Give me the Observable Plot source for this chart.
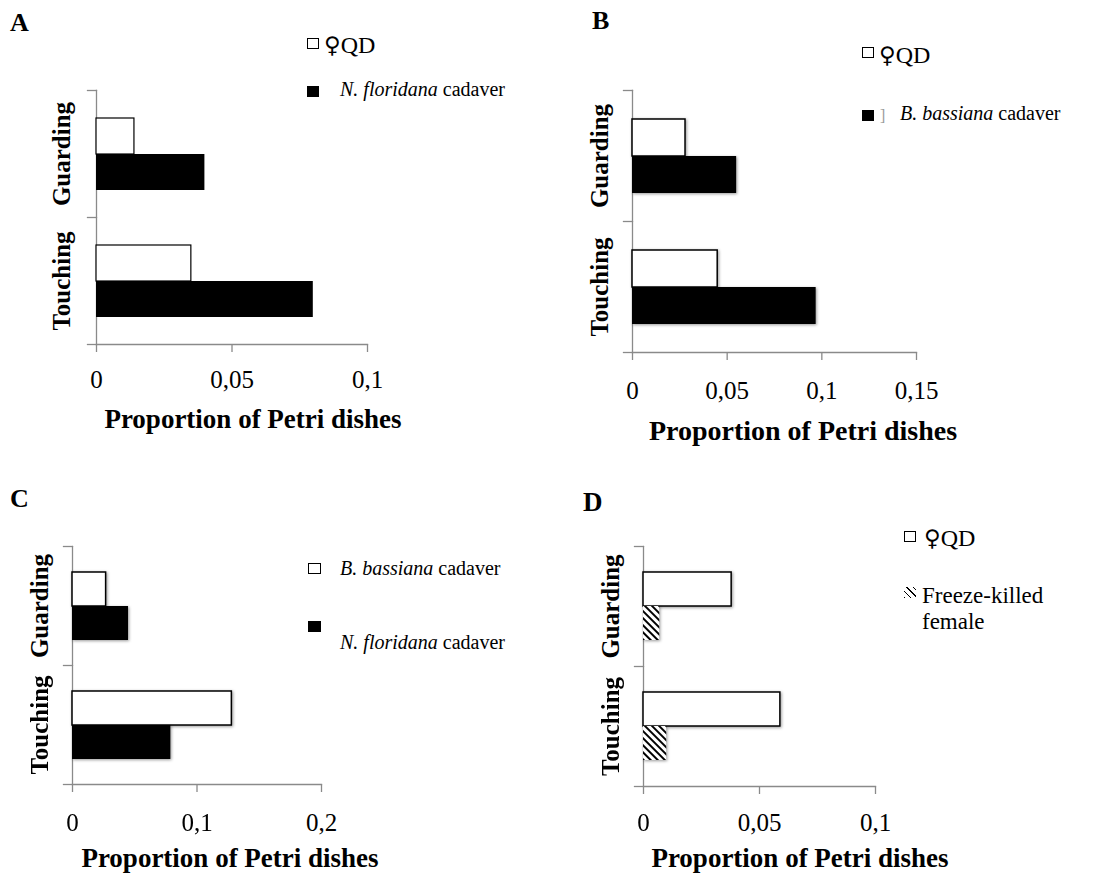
<!DOCTYPE html>
<html><head><meta charset="utf-8">
<script src="https://cdn.jsdelivr.net/npm/d3@7"></script>
<script src="https://cdn.jsdelivr.net/npm/@observablehq/plot@0.6"></script>
<style>
html,body{margin:0;padding:0;background:#fff;}
#root{position:relative;width:1101px;height:877px;overflow:hidden;background:#fff;font-family:"Liberation Serif","Times New Roman",serif;color:#000;}
.abs{position:absolute;line-height:1;white-space:nowrap;}
.panel{position:absolute;}
.panel svg, .panel svg text{font-family:"Liberation Serif","Times New Roman",serif !important;}
.shadow g[aria-label="bar"]{filter:drop-shadow(1.5px 1.5px 1.5px rgba(0,0,0,0.4));}
.sw{position:absolute;box-sizing:border-box;}
.fem{font-family:"DejaVu Serif","DejaVu Sans",serif;font-size:0.95em;}
</style></head><body><div id="root"></div>
<script>
const categories = ["Guarding", "Touching"];

// Panel A
const seriesA = ["♀QD", "N. floridana cadaver"];
const qdA = [0.014, 0.035];
const nfloridanaA = [0.040, 0.080];
const ticksA = [0, 0.05, 0.1];
const tickLabelsA = ["0", "0,05", "0,1"];

// Panel B
const seriesB = ["♀QD", "B. bassiana cadaver"];
const qdB = [0.028, 0.045];
const bbassianaB = [0.055, 0.097];
const ticksB = [0, 0.05, 0.1, 0.15];
const tickLabelsB = ["0", "0,05", "0,1", "0,15"];

// Panel C
const seriesC = ["B. bassiana cadaver", "N. floridana cadaver"];
const bbassianaC = [0.027, 0.128];
const nfloridanaC = [0.045, 0.079];
const ticksC = [0, 0.1, 0.2];
const tickLabelsC = ["0", "0,1", "0,2"];

// Panel D
const seriesD = ["♀QD", "Freeze-killed female"];
const qdD = [0.038, 0.059];
const freezeD = [0.007, 0.010];
const ticksD = [0, 0.05, 0.1];
const tickLabelsD = ["0", "0,05", "0,1"];

const xTitle = "Proportion of Petri dishes";
const GRAY = "#8a8a8a";
const root = document.getElementById("root");

const whiteBar = sw => ({fill: "#fff", stroke: "#000", strokeWidth: sw});
const blackBar = {fill: "#000"};

function panel(cfg) {
  const rows = [];
  categories.forEach((c, i) => cfg.series.forEach((s, j) => rows.push({cat: c, series: s, value: cfg.values[j][i]})));
  const innerW = cfg.width - cfg.ml - cfg.mr;
  const ln = {stroke: GRAY, strokeWidth: 1.3};
  const marks = [
    Plot.frame({anchor: "left", facet: "super", ...ln}),
    Plot.frame({anchor: "bottom", facet: "super", ...ln}),
    Plot.frame({anchor: "top", insetLeft: -9, insetRight: innerW, ...ln}),
    Plot.frame({anchor: "bottom", facet: "super", insetLeft: -9, insetRight: innerW, ...ln}),
    ...cfg.series.map((s, j) => Plot.barX(rows.filter(r => r.series === s), {fy: "cat", y: "series", x: "value", ...cfg.styles[j]})),
    Plot.axisX({ticks: cfg.ticks, tickFormat: d => cfg.tickLabels[cfg.ticks.indexOf(d)], tickSize: 8, tickPadding: cfg.tp, fontSize: 25, stroke: GRAY, strokeWidth: 1.3, fill: "#000", label: null}),
    Plot.text(categories, {fy: d => d, text: d => d, frameAnchor: "left", textAnchor: "middle", rotate: -90, dx: cfg.labelDx, fontSize: 25, fontWeight: "bold", fill: "#000", lineAnchor: "middle"})
  ];
  const svg = Plot.plot({
    width: cfg.width, height: cfg.height,
    marginLeft: cfg.ml, marginRight: cfg.mr, marginTop: cfg.mt, marginBottom: cfg.mb,
    x: {domain: [cfg.ticks[0], cfg.ticks[cfg.ticks.length - 1]]},
    y: {domain: cfg.series, axis: null, paddingInner: 0, paddingOuter: cfg.po},
    fy: {domain: categories, padding: 0, axis: null},
    style: {fontFamily: '"Liberation Serif", serif', background: "transparent", overflow: "visible", color: "#000"},
    marks
  });
  if (cfg.defs) d3.select(svg).insert("defs", ":first-child").html(cfg.defs);
  const wrap = document.createElement("div");
  wrap.className = "panel" + (cfg.shadow ? " shadow" : "");
  wrap.style.left = cfg.left + "px";
  wrap.style.top = cfg.top + "px";
  wrap.appendChild(svg);
  root.appendChild(wrap);
}

function txt(html, x, baseline, size, extra = "") {
  const d = document.createElement("div");
  d.className = "abs";
  d.innerHTML = html;
  d.style.cssText += `left:${x}px;top:${baseline - 0.8375 * size}px;font-size:${size}px;${extra}`;
  root.appendChild(d);
  return d;
}
function swatch(x, y, w, h, css) {
  const d = document.createElement("div");
  d.className = "sw";
  d.style.cssText += `left:${x}px;top:${y}px;width:${w}px;height:${h}px;${css}`;
  root.appendChild(d);
}
const italicize = s => s.replace(/^([A-Z]\. [a-z]+)/, "<i>$1</i>");
const female = s => s.replace("♀", '<span class="fem">♀</span>');

panel({left: 0, top: 0, width: 550, height: 410, ml: 96, mr: 183, mt: 89, mb: 66, po: 0.753, tp: 18, labelDx: -35,
  series: seriesA, values: [qdA, nfloridanaA], ticks: ticksA, tickLabels: tickLabelsA,
  styles: [whiteBar(1.2), blackBar]});
panel({left: 550, top: 0, width: 551, height: 410, ml: 82, mr: 185, mt: 90, mb: 58, po: 0.747, tp: 21, labelDx: -33,
  series: seriesB, values: [qdB, bbassianaB], ticks: ticksB, tickLabels: tickLabelsB,
  styles: [whiteBar(1.5), blackBar], shadow: true});
panel({left: 0, top: 470, width: 550, height: 407, ml: 72, mr: 229, mt: 75, mb: 93, po: 0.71, tp: 21, labelDx: -33,
  series: seriesC, values: [bbassianaC, nfloridanaC], ticks: ticksC, tickLabels: tickLabelsC,
  styles: [whiteBar(1.5), blackBar], shadow: true});
panel({left: 550, top: 470, width: 551, height: 407, ml: 93, mr: 226, mt: 76, mb: 91, po: 0.76, tp: 19, labelDx: -33,
  series: seriesD, values: [qdD, freezeD], ticks: ticksD, tickLabels: tickLabelsD,
  styles: [whiteBar(1.5), {fill: "url(#hatchD)"}], shadow: true,
  defs: '<pattern id="hatchD" width="5" height="5" patternUnits="userSpaceOnUse" patternTransform="rotate(-45)"><rect width="5" height="5" fill="#fff"/><line x1="1" y1="0" x2="1" y2="5" stroke="#000" stroke-width="2"/></pattern>'});

// Panel letters
const B26 = "font-weight:bold;";
txt("A", 10, 32, 26, B26);
txt("B", 592, 30, 26, B26);
txt("C", 10, 508, 26, B26);
txt("D", 583, 512, 27, B26);

// Axis titles (centered)
const ctr = "transform:translateX(-50%);font-weight:bold;";
txt(xTitle, 253, 429, 27, ctr);
txt(xTitle, 803, 440, 28, ctr);
txt(xTitle, 230, 868, 27, ctr);
txt(xTitle, 800, 868, 27, ctr);

// Legends
const whiteSw = "border:1.5px solid #000;background:#fff;";
const blackSw = "background:#000;";
// A
swatch(307, 38, 12, 11, whiteSw); txt(female(seriesA[0]), 324, 53, 24);
swatch(307, 86, 12, 11, blackSw); txt(italicize(seriesA[1]), 340, 96, 20);
// B
swatch(862, 47, 12, 11, whiteSw); txt(female(seriesB[0]), 879, 63, 24);
swatch(862, 110, 12, 11, blackSw); txt("]", 880, 121, 16, "color:#999;");
txt(italicize(seriesB[1]), 900, 120, 20);
// C
swatch(308, 563, 13, 11, whiteSw); txt(italicize(seriesC[0]), 340, 575, 20);
swatch(308, 621, 13, 11, blackSw); txt(italicize(seriesC[1]), 340, 649, 20);
// D
swatch(904, 531, 12, 11, whiteSw); txt(female(seriesD[0]), 924, 546, 24);
swatch(904, 587, 12, 11, "background:repeating-linear-gradient(45deg,#000 0 0.9px,#fff 0.9px 4.5px);");
txt("Freeze-killed", 922, 603, 23);
txt("female", 922, 629, 23);
</script></body></html>
